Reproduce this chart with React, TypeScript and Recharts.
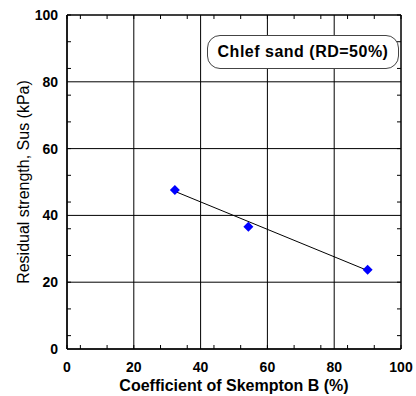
import {
  ScatterChart,
  Scatter,
  XAxis,
  YAxis,
  CartesianGrid,
  Legend,
} from "recharts";

const skemptonB = [32.3, 54.3, 90];
const residualStrength = [47.6, 36.6, 23.7];
const trendB = [32.3, 90];
const trendSus = [47.2, 23.5];
const majorTicks = [0, 20, 40, 60, 80, 100];
const minorTicks = [0, 4, 8, 12, 16, 20, 24, 28, 32, 36, 40, 44, 48, 52, 56, 60, 64, 68, 72, 76, 80, 84, 88, 92, 96, 100];
const seriesName = "Chlef sand (RD=50%)";

const points = skemptonB.map((b, i) => ({ b, sus: residualStrength[i] }));
const trend = trendB.map((b, i) => ({ b, sus: trendSus[i] }));

const font = "'Liberation Sans', Arial, sans-serif";
const tickStyle = { fontSize: 14, fontWeight: 700, fill: "#000", fontFamily: font };

const Diamond = (props: any) => {
  const { cx, cy } = props;
  const r = 5;
  return (
    <polygon
      points={`${cx},${cy - r} ${cx + r},${cy} ${cx},${cy + r} ${cx - r},${cy}`}
      fill="#0000ff"
    />
  );
};

const Empty = () => <g />;

const LegendBox = () => (
  <div
    style={{
      width: 192,
      height: 34,
      boxSizing: "border-box",
      border: "1px solid #444",
      borderRadius: 13,
      background: "#fff",
      display: "flex",
      alignItems: "center",
      justifyContent: "center",
      fontFamily: font,
      fontWeight: 700,
      fontSize: 16,
      letterSpacing: 0.5,
      color: "#000",
    }}
  >
    {seriesName}
  </div>
);

// inward minor ticks on all four sides
const minorX = (id: string, orientation: "top" | "bottom") => (
  <XAxis
    xAxisId={id}
    type="number"
    dataKey="b"
    domain={[0, 100]}
    ticks={minorTicks}
    orientation={orientation}
    mirror
    height={4}
    tick={Empty}
    tickSize={4}
    axisLine={{ stroke: "#000" }}
    tickLine={{ stroke: "#000" }}
  />
);

const minorY = (id: string, orientation: "left" | "right") => (
  <YAxis
    yAxisId={id}
    type="number"
    dataKey="sus"
    domain={[0, 100]}
    ticks={minorTicks}
    orientation={orientation}
    mirror
    width={4}
    tick={Empty}
    tickSize={4}
    axisLine={{ stroke: "#000" }}
    tickLine={{ stroke: "#000" }}
  />
);

export default function App() {
  return (
    <div style={{ position: "absolute", left: 0, top: 0, background: "#fff" }}>
      <ScatterChart
        width={416}
        height={396}
        margin={{ top: 15, right: 15, left: 0, bottom: 0 }}
      >
        <CartesianGrid stroke="#000" strokeOpacity={1} />
        <XAxis
          type="number"
          dataKey="b"
          domain={[0, 100]}
          ticks={majorTicks}
          height={47}
          tickLine={false}
          tickSize={0}
          tickMargin={13}
          axisLine={{ stroke: "#000" }}
          tick={tickStyle}
          label={{
            value: "Coefficient of Skempton B (%)",
            position: "insideBottom",
            offset: 5,
            style: { fontSize: 16, fontWeight: 700, fill: "#000", fontFamily: font },
          }}
        />
        <YAxis
          type="number"
          dataKey="sus"
          domain={[0, 100]}
          ticks={majorTicks}
          width={67}
          tickLine={false}
          tickSize={0}
          tickMargin={9}
          axisLine={{ stroke: "#000" }}
          tick={tickStyle}
          label={{
            value: "Residual strength, Sus (kPa)",
            angle: -90,
            position: "insideLeft",
            offset: 23,
            style: { fontSize: 16, fill: "#000", fontFamily: font, textAnchor: "middle" },
          }}
        />
        {minorX("minorBottom", "bottom")}
        {minorX("minorTop", "top")}
        {minorY("minorLeft", "left")}
        {minorY("minorRight", "right")}
        <Legend
          verticalAlign="middle"
          layout="horizontal"
          content={() => <LegendBox />}
          wrapperStyle={{ top: 35, left: 207, width: 192, height: 34 }}
        />
        <Scatter
          xAxisId="minorBottom"
          yAxisId="minorLeft"
          data={points}
          shape={Empty}
          legendType="none"
          isAnimationActive={false}
        />
        <Scatter
          xAxisId="minorTop"
          yAxisId="minorRight"
          data={points}
          shape={Empty}
          legendType="none"
          isAnimationActive={false}
        />
        <Scatter
          name="trend"
          data={trend}
          line={{ stroke: "#000", strokeWidth: 1 }}
          shape={Empty}
          legendType="none"
          isAnimationActive={false}
        />
        <Scatter
          name={seriesName}
          data={points}
          shape={Diamond}
          isAnimationActive={false}
        />
      </ScatterChart>
    </div>
  );
}
